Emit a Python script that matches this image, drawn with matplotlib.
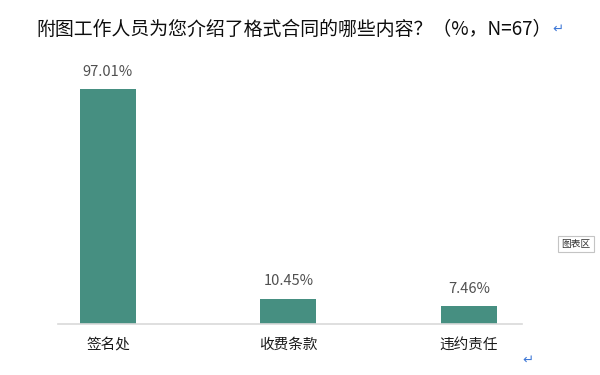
import matplotlib
matplotlib.use("Agg")
import matplotlib.pyplot as plt

plt.rcParams["font.family"] = ["Noto Sans CJK SC", "DejaVu Sans"]

categories = ["签名处", "收费条款", "违约责任"]
values = [97.01, 10.45, 7.46]
value_labels = ["97.01%", "10.45%", "7.46%"]
title = "附图工作人员为您介绍了格式合同的哪些内容？（%，N=67）"

BAR_COLOR = "#468F81"

fig = plt.figure(figsize=(6, 3.75), dpi=100)
fig.patch.set_facecolor("white")

# axes: baseline at y=324px, axis line from 58px to 522px
ax = fig.add_axes([58 / 600, 1 - 324 / 375, (522 - 58) / 600, (324 - 60) / 375])
x = list(range(len(categories)))
ax.bar(x, values, width=0.31, color=BAR_COLOR)
ax.set_xlim(-0.277, 2.294)
ax.set_ylim(0, 97.01 * 264 / 235)

for xi, v, lab in zip(x, values, value_labels):
    ax.annotate(lab, (xi, v), xytext=(0, 12.5), textcoords="offset points",
                ha="center", va="center", fontsize=10.5, color="#505050")

ax.set_xticks(x)
ax.set_xticklabels(categories, fontsize=10.5, color="#1a1a1a")
ax.tick_params(axis="x", length=0, pad=10)
ax.set_yticks([])
for side in ["top", "left", "right"]:
    ax.spines[side].set_visible(False)
ax.spines["bottom"].set_color("#d9d9d9")
ax.spines["bottom"].set_linewidth(1.2)

fig.text(36 / 600, 1 - 29 / 375, title, fontsize=13.6, color="#0d0d0d",
         ha="left", va="center")
fig.text(558 / 600, 1 - 29 / 375, "↵", fontsize=9.5, color="#3f78d6",
         ha="center", va="center", family=["DejaVu Sans"])
fig.text(528 / 600, 1 - 360 / 375, "↵", fontsize=9.5, color="#3f78d6",
         ha="center", va="center", family=["DejaVu Sans"])

# chart-area tooltip box
fig.text(576 / 600, 1 - 244 / 375, "图表区", fontsize=7, color="#333333",
         ha="center", va="center",
         bbox=dict(boxstyle="square,pad=0.3", fc="white", ec="#c4c4c4", lw=0.8))

fig.savefig("out.png", dpi=100)
